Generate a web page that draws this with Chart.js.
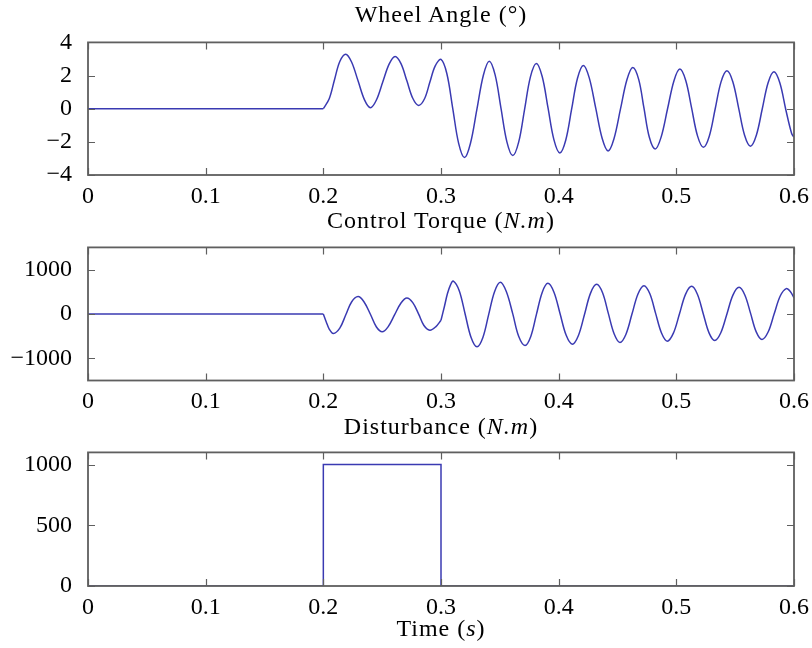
<!DOCTYPE html>
<html>
<head>
<meta charset="utf-8">
<script src="https://cdn.jsdelivr.net/npm/chart.js@4.4.1/dist/chart.umd.min.js"></script>
<style>
  body { margin: 0; background: #fff; }
  #wrap { position: relative; width: 812px; height: 648px; overflow: hidden; }
  canvas { position: absolute; left: 0; }
  .lbl { position: absolute; left: 88px; width: 706px; text-align: center;
         font-family: "Liberation Serif", serif; font-size: 24px; line-height: 24px;
         letter-spacing: 1px; color: #000; z-index: 2; white-space: nowrap; }
</style>
</head>
<body>
<div id="wrap">
  <canvas id="c1" width="812" height="200" style="top:20px"></canvas>
  <canvas id="c2" width="812" height="200" style="top:225px"></canvas>
  <canvas id="c3" width="812" height="200" style="top:430px"></canvas>
  <div class="lbl" style="top:2px">Wheel Angle (°)</div>
  <div class="lbl" style="top:208px">Control Torque (<i>N.m</i>)</div>
  <div class="lbl" style="top:414px">Disturbance (<i>N.m</i>)</div>
  <div class="lbl" style="top:616px">Time (<i>s</i>)</div>
</div>
<script>
// time axis shared by all three plots
var timeTicks = [0, 0.1, 0.2, 0.3, 0.4, 0.5, 0.6];

// wheel angle (deg)
var wheelTime = [0, 0.2, 0.205, 0.2095, 0.214, 0.219, 0.224, 0.2295, 0.235, 0.240, 0.245, 0.2505, 0.256, 0.261,
  0.266, 0.271, 0.276, 0.281, 0.286, 0.2905, 0.295, 0.300, 0.305, 0.310, 0.315, 0.320, 0.325, 0.3305, 0.336, 0.341,
  0.346, 0.351, 0.356, 0.361, 0.366, 0.371, 0.376, 0.381, 0.386, 0.391, 0.396, 0.401, 0.406, 0.411, 0.416, 0.421,
  0.426, 0.4315, 0.437, 0.442, 0.447, 0.4525, 0.458, 0.463, 0.468, 0.4725, 0.477, 0.482, 0.487, 0.4925, 0.498, 0.503,
  0.508, 0.513, 0.518, 0.523, 0.528, 0.533, 0.538, 0.543, 0.548, 0.553, 0.558, 0.563, 0.568, 0.573, 0.578, 0.583,
  0.588, 0.593, 0.598, 0.600];
var wheelAngle = [0, 0, 0.6, 1.75, 2.85, 3.29, 2.82, 1.68, 0.53, 0.06, 0.51, 1.61, 2.70, 3.15,
  2.72, 1.68, 0.63, 0.20, 0.60, 1.59, 2.57, 2.97, 2.11, 0.01, -2.09, -2.95, -2.10, -0.04, 2.02, 2.87,
  2.04, 0.02, -2.00, -2.83, -2.02, -0.05, 1.92, 2.73, 1.94, 0.03, -1.88, -2.67, -1.90, -0.03, 1.84, 2.61,
  1.86, 0.03, -1.80, -2.55, -1.81, -0.03, 1.75, 2.49, 1.77, 0.03, -1.71, -2.43, -1.73, -0.02, 1.69, 2.39,
  1.70, 0.03, -1.64, -2.33, -1.66, -0.02, 1.62, 2.29, 1.63, 0.02, -1.60, -2.26, -1.60, -0.02, 1.57, 2.23,
  1.55, -0.05, -1.50, -1.72];
var wheelTicks = [-4, -2, 0, 2, 4];

// control torque (N.m)
var torqueTime = [0, 0.2, 0.2025, 0.205, 0.2085, 0.214, 0.219, 0.224, 0.2295, 0.2345, 0.240, 0.245, 0.250,
  0.255, 0.2605, 0.266, 0.271, 0.276, 0.281, 0.2855, 0.2905, 0.2955, 0.300, 0.303, 0.3055, 0.308, 0.3105,
  0.3155, 0.3205, 0.3255, 0.3306, 0.3356, 0.3405, 0.3455, 0.3504, 0.3555, 0.361, 0.366, 0.3714, 0.3763, 0.3811,
  0.386, 0.3908, 0.396, 0.4012, 0.4064, 0.4116, 0.4168, 0.422, 0.4271, 0.4323, 0.4373, 0.4422, 0.4472, 0.4521,
  0.4572, 0.4623, 0.4674, 0.4725, 0.4775, 0.4824, 0.4874, 0.4923, 0.4975, 0.5027, 0.5078, 0.513, 0.5179, 0.5228,
  0.5277, 0.5326, 0.5378, 0.543, 0.5481, 0.5533, 0.5582, 0.5631, 0.5679, 0.5728, 0.578, 0.5831, 0.5883, 0.5934,
  0.597, 0.600];
var torqueValue = [0, 0, -180, -340, -440, -319, -25, 270, 391, 275, -7, -288, -404,
  -292, -22, 248, 360, 254, -3, -260, -366, -290, -142, 180, 460, 650, 742,
  525, 0, -525, -742, -530, -15, 500, 712, 504, 1, -502, -710, -506, -10,
  486, 690, 490, 5, -481, -681, -484, -7, 470, 667, 476, 12, -452, -643,
  -456, -3, 451, 638, 455, 13, -430, -613, -433, 5, 442, 622, 444, 12,
  -420, -598, -423, 1, 425, 600, 428, 13, -403, -575, -408, -2, 404, 571,
  500, 360];
var torqueTicks = [-1000, 0, 1000];

// disturbance (N.m) - step pulse
var distTime = [0, 0.2, 0.2, 0.3, 0.3, 0.6];
var distValue = [0, 0, 1000, 1000, 0, 0];
var distTicks = [0, 500, 1000];

var lineColor = '#3a3ab2';
var frameColor = '#5f5f5f';
var font = { family: '"Liberation Serif", serif', size: 24 };
var padTop = 22;

// cut a series into pieces at the kinks, the kink point goes into both pieces
function pieces(times, values, breaks) {
  var out = [[]];
  for (var i = 0; i < times.length; i++) {
    out[out.length - 1].push({ x: times[i], y: values[i] });
    if (breaks.indexOf(times[i]) >= 0 && i > 0 && i < times.length - 1) {
      out.push([{ x: times[i], y: values[i] }]);
    }
  }
  return out;
}

function fmt(v) {
  if (v === 0) return '0';
  var s = Math.abs(v) < 1 ? String(Math.round(Math.abs(v) * 10) / 10) : String(Math.abs(v));
  return (v < 0 ? '\u2212' : '') + s;
}

// matlab style box with inward ticks on all four sides
var boxTicks = {
  id: 'boxTicks',
  afterDatasetsDraw: function(chart) {
    var ctx = chart.ctx, a = chart.chartArea;
    var xs = chart.scales.x, ys = chart.scales.y;
    var len = 7;
    ctx.save();
    ctx.strokeStyle = frameColor;
    ctx.lineWidth = 1.2;
    ctx.beginPath();
    xs.ticks.forEach(function(t) {
      var px = Math.round(xs.getPixelForValue(t.value)) + 0.5;
      ctx.moveTo(px, a.bottom); ctx.lineTo(px, a.bottom - len);
      ctx.moveTo(px, a.top); ctx.lineTo(px, a.top + len);
    });
    ys.ticks.forEach(function(t) {
      var py = Math.round(ys.getPixelForValue(t.value)) + 0.5;
      ctx.moveTo(a.left, py); ctx.lineTo(a.left + len, py);
      ctx.moveTo(a.right, py); ctx.lineTo(a.right - len, py);
    });
    ctx.stroke();
    ctx.lineWidth = 1.8;
    ctx.strokeRect(a.left, a.top, a.right - a.left, a.bottom - a.top);
    ctx.restore();
  }
};

function makePlot(id, segs, ymin, ymax, yTicks, areaH, smooth) {
  var datasets = segs.map(function(s) {
    return {
      data: s,
      borderColor: lineColor,
      borderWidth: 1.5,
      pointRadius: 0,
      fill: false,
      tension: smooth ? 0.35 : 0
    };
  });
  return new Chart(document.getElementById(id), {
    type: 'line',
    data: { datasets: datasets },
    plugins: [boxTicks],
    options: {
      responsive: false,
      animation: false,
      devicePixelRatio: 1,
      layout: { padding: { left: 0, right: 18, top: padTop, bottom: 0 } },
      plugins: { legend: { display: false }, tooltip: { enabled: false } },
      scales: {
        x: {
          type: 'linear', min: 0, max: 0.6,
          grid: { display: false }, border: { display: false },
          afterBuildTicks: function(s) { s.ticks = timeTicks.map(function(v) { return { value: v }; }); },
          afterFit: function(s) { s.height = 200 - padTop - areaH; },
          ticks: { font: font, color: '#000', padding: -1, maxRotation: 0, autoSkip: false,
                   callback: function(v) { return fmt(v); } }
        },
        y: {
          min: ymin, max: ymax,
          grid: { display: false }, border: { display: false },
          afterBuildTicks: function(s) { s.ticks = yTicks.map(function(v) { return { value: v }; }); },
          afterFit: function(s) { s.width = 88; },
          ticks: { font: font, color: '#000', padding: 8, autoSkip: false,
                   callback: function(v) { return fmt(v); } }
        }
      }
    }
  });
}

makePlot('c1', pieces(wheelTime, wheelAngle, [0.2]), -4, 4, wheelTicks, 133, true);
makePlot('c2', pieces(torqueTime, torqueValue, [0.2, 0.3]), -1500, 1500, torqueTicks, 133.5, true);
makePlot('c3', [distTime.map(function(t, i) { return { x: t, y: distValue[i] }; })], 0, 1100, distTicks, 134, false);
</script>
</body>
</html>
